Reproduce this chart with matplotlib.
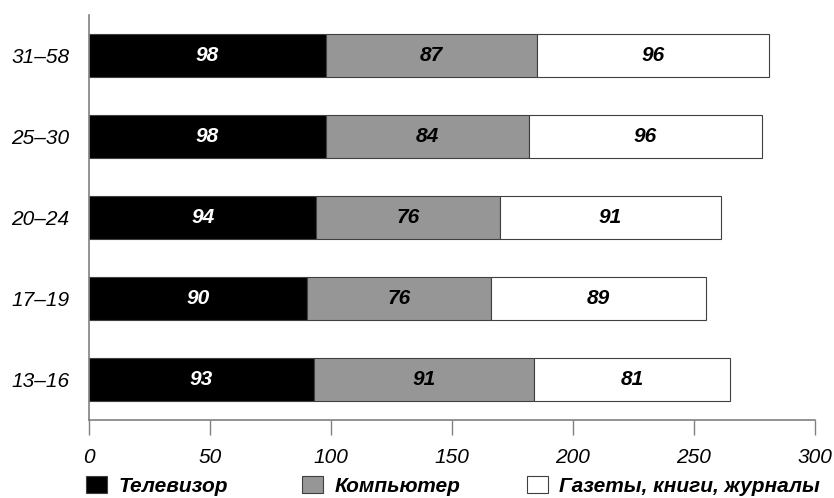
import numpy as np
import matplotlib.pyplot as plt

plt.rcParams['font.family'] = ['Liberation Sans', 'DejaVu Sans']

grupos = ['13–16', '17–19', '20–24', '25–30', '31–58']
televizor = [93, 90, 94, 98, 98]
kompyuter = [91, 76, 76, 84, 87]
gazety = [81, 89, 91, 96, 96]
nazvaniya = ['Телевизор', 'Компьютер', 'Газеты, книги, журналы']
cveta = ['#000000', '#969696', '#ffffff']
cveta_teksta = ['white', 'black', 'black']

fig = plt.figure(figsize=(8.34, 4.98), dpi=100)
ax = fig.add_axes([89 / 834, 78 / 498, 726 / 834, 405 / 498])

y = np.arange(len(grupos))
left = np.zeros(len(grupos))
handles = []
for serie, cor, cor_txt, nome in zip([televizor, kompyuter, gazety], cveta, cveta_teksta, nazvaniya):
    barras = ax.barh(y, serie, left=left, height=0.52, color=cor, edgecolor='#404040',
                     linewidth=0.8, label=nome)
    handles.append(barras)
    for yi, l, v in zip(y, left, serie):
        ax.text(l + v / 2, yi, str(v), ha='center', va='center', color=cor_txt,
                fontsize=15, fontweight='bold', fontstyle='italic')
    left = left + np.array(serie)

ax.set_xlim(0, 300)
ax.set_ylim(-0.5, 4.5)
ax.set_xticks(np.arange(0, 301, 50))
ax.set_yticks(y)
ax.set_yticklabels(grupos)
for s in ['top', 'right']:
    ax.spines[s].set_visible(False)
for s in ['left', 'bottom']:
    ax.spines[s].set_color('#808080')
    ax.spines[s].set_linewidth(1.2)
ax.tick_params(axis='x', length=11, color='#808080', width=1, labelsize=15, pad=9)
ax.tick_params(axis='y', length=0, labelsize=15, pad=14)
for lbl in ax.get_xticklabels() + ax.get_yticklabels():
    lbl.set_fontstyle('italic')

# legenda em três partes, cada uma na sua posição
posicoes_x = [86, 302, 527]
for h, nome, px in zip(handles, nazvaniya, posicoes_x):
    fig.legend(handles=[h], labels=[nome], loc='lower left',
               bbox_to_anchor=(px / 834, 0.004), frameon=False, borderpad=0,
               borderaxespad=0, prop={'size': 15, 'weight': 'bold', 'style': 'italic'},
               handlelength=1.0, handleheight=0.9, handletextpad=0.55)

fig.savefig('out.png', dpi=100)
